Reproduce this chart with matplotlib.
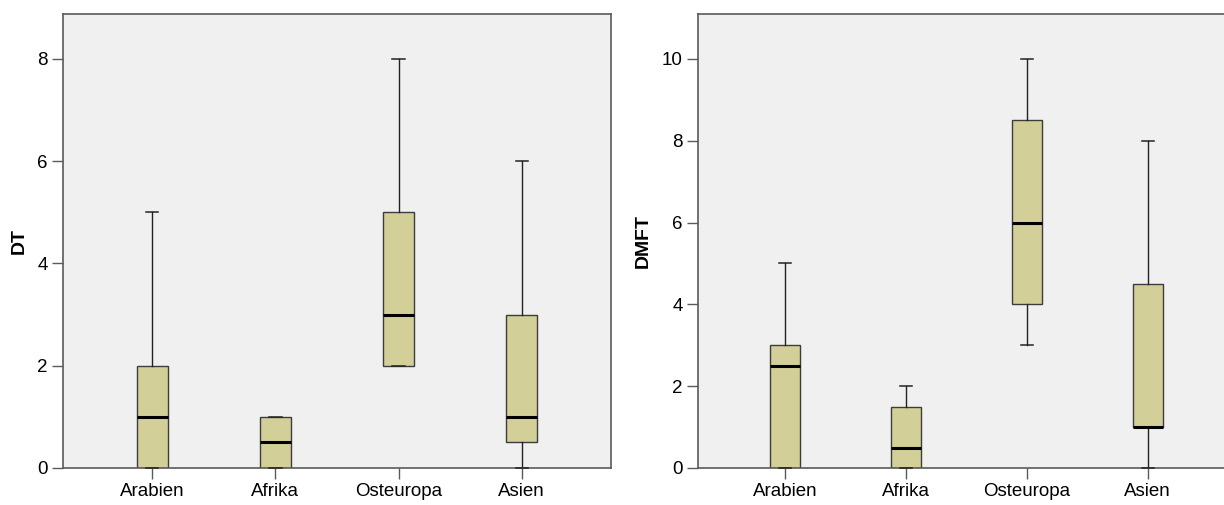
import matplotlib
matplotlib.use('Agg')
import matplotlib.pyplot as plt

# data -------------------------------------------------------------------------
groups = ['Arabien', 'Afrika', 'Osteuropa', 'Asien']

# DT: lower whisker, q1, median, q3, upper whisker
dt_lo  = [0, 0,   2, 0]
dt_q1  = [0, 0,   2, 0.5]
dt_med = [1, 0.5, 3, 1]
dt_q3  = [2, 1,   5, 3]
dt_hi  = [5, 1,   8, 6]

# DMFT
dmft_lo  = [0,   0,   3,   0]
dmft_q1  = [0,   0,   4,   1]
dmft_med = [2.5, 0.5, 6,   1]
dmft_q3  = [3,   1.5, 8.5, 4.5]
dmft_hi  = [5,   2,   10,  8]

FILL = '#d3cf98'
BG = '#f0f0f0'
SPINE = '#5a5a5a'

plt.rcParams['font.family'] = ['Liberation Sans', 'DejaVu Sans']
plt.rcParams['font.size'] = 13.5

def make_stats(lo, q1, med, q3, hi):
    return [dict(whislo=a, q1=b, med=c, q3=d, whishi=e, fliers=[])
            for a, b, c, d, e in zip(lo, q1, med, q3, hi)]

# plot one box panel -----------------------------------------------------------
def plot_box(ax, stats, ylab, ymax, yt):
    ax.set_facecolor(BG)
    art = ax.bxp(stats, positions=range(1, len(stats) + 1), widths=0.25,
                 capwidths=0.1, patch_artist=True, showfliers=False,
                 boxprops=dict(facecolor=FILL, edgecolor='#3c3c3c', lw=1),
                 medianprops=dict(color='black', lw=2.2),
                 whiskerprops=dict(color='#222222', lw=1),
                 capprops=dict(color='#222222', lw=1.1))
    for c in art['caps']:
        c.set_zorder(3)
        c.set_clip_on(False)
    ax.set_xlim(0.276, 4.724)
    ax.set_ylim(0, ymax)
    ax.set_yticks(yt)
    ax.set_xticks(range(1, len(groups) + 1))
    ax.set_xticklabels(groups)
    ax.set_ylabel(ylab, fontweight='bold', fontsize=14, labelpad=7)
    for s in ax.spines.values():
        s.set_color(SPINE)
        s.set_linewidth(1.2)
    ax.tick_params(axis='both', direction='out', length=8, width=1,
                   color=SPINE, labelsize=13.5, pad=3)

# main -------------------------------------------------------------------------
fig = plt.figure(figsize=(12.24, 5.05), dpi=100)
ax1 = fig.add_axes((63 / 1224, 37 / 505, 548 / 1224, 454 / 505))
ax2 = fig.add_axes((698 / 1224, 37 / 505, 537 / 1224, 454 / 505))

plot_box(ax1, make_stats(dt_lo, dt_q1, dt_med, dt_q3, dt_hi),
         'DT', 8.88, [0, 2, 4, 6, 8])
plot_box(ax2, make_stats(dmft_lo, dmft_q1, dmft_med, dmft_q3, dmft_hi),
         'DMFT', 11.1, [0, 2, 4, 6, 8, 10])

fig.savefig('out.png', dpi=100)
